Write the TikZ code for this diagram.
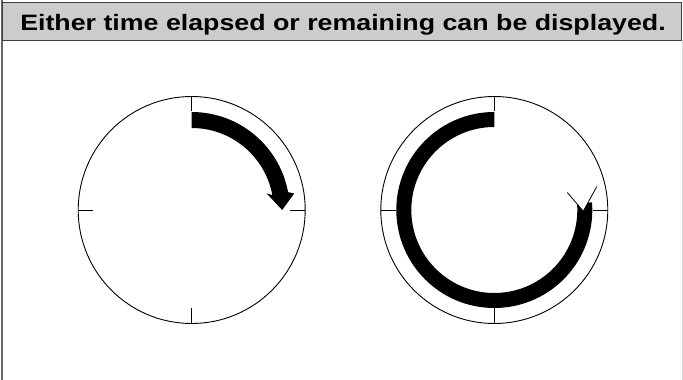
\documentclass[tikz,border=0pt]{standalone}
\usepackage{fontspec}
\usepackage{graphicx}
\setmainfont{Liberation Sans}
\begin{document}
\begin{tikzpicture}[x=1pt,y=1pt,
  dial/.style={draw=black,line width=0.9pt},
  tick/.style={draw=black,line width=0.9pt},
  band/.style={fill=black},
  headline/.style={draw=black,line width=0.8pt}]
\useasboundingbox (0,0) rectangle (683,380);
\fill[white] (0,0) rectangle (683,380);
% frame
\draw[draw=gray!80!black,line width=1.6pt] (2,380) -- (2,0);
\draw[draw=gray!30,line width=1pt] (682.3,340) -- (682.3,0);
\node[draw=black!75,line width=1pt,fill=black!20,minimum width=679pt,minimum height=38pt,inner sep=0pt,anchor=north west] (header) at (2,378) {};
\node[font=\fontsize{22.3}{26}\selectfont\bfseries,anchor=base,inner sep=0pt] (title) at (343,349) {\scalebox{1.2}[1]{Either time elapsed or remaining can be displayed.}};
% left dial
\begin{scope}[shift={(191.7,170)}]
  \draw[dial] (0,0) circle[radius=113.5];
  \foreach \a in {0,90,180,270}{\draw[tick] (\a:113.5) -- (\a:98.5);}
  \fill[band] (90:98) arc[start angle=90,end angle=10.5,radius=98]
    -- (102.5,16.5) -- (90.5,0) -- (75,16.5)
    -- (10.5:82) arc[start angle=10.5,end angle=90,radius=82] -- cycle;
\end{scope}
% right dial
\begin{scope}[shift={(494.3,170)}]
  \draw[dial] (0,0) circle[radius=113.5];
  \foreach \a in {0,90,180,270}{\draw[tick] (\a:113.5) -- (\a:98.5);}
  \fill[band] (90:98) arc[start angle=90,end angle=364.5,radius=98]
    -- (364.5:83) arc[start angle=364.5,end angle=90,radius=83] -- cycle;
  \fill[white] (73,17.5) -- (89,-1.2) -- (102.5,23.5) -- cycle;
  \draw[headline] (73,17.5) -- (89,-1.2) -- (102.5,23.5);
\end{scope}
\end{tikzpicture}
\end{document}
